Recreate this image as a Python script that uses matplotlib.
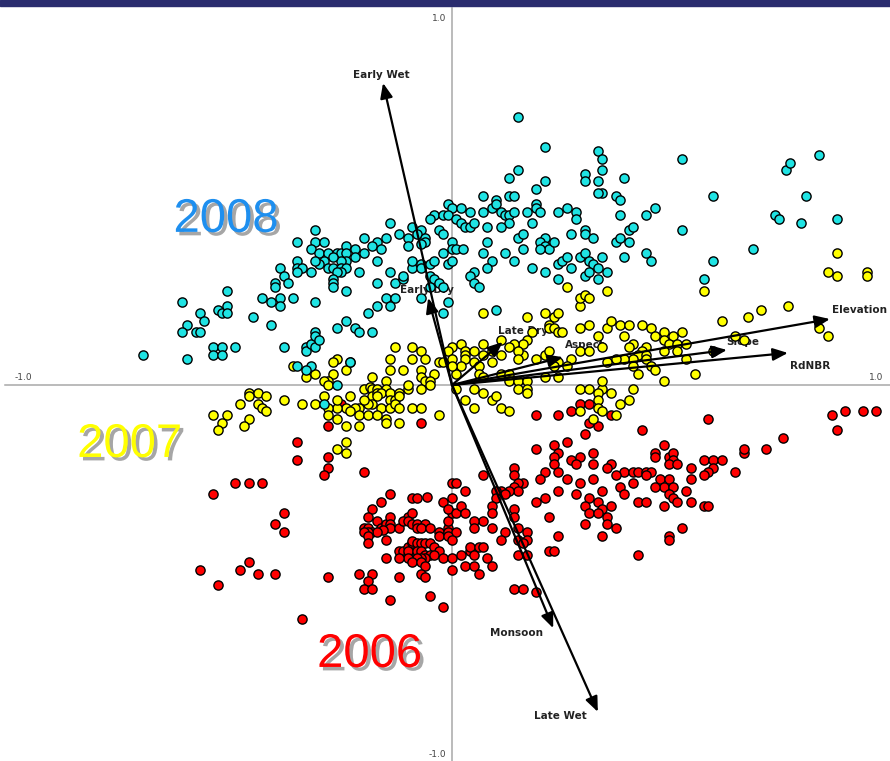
import matplotlib
matplotlib.use("Agg")
import matplotlib.pyplot as plt
from matplotlib import patheffects as pe
from matplotlib.patches import Rectangle

# Site scores on ordination axes 1 and 2, by fire year
scores_2008 = [
    (-0.70, 0.08), (-0.61, 0.22), (-0.60, 0.16), (-0.61, 0.14), (-0.58, 0.14), (-0.57, 0.14),
    (-0.57, 0.19), (-0.56, 0.17), (-0.60, 0.07), (-0.54, 0.10), (-0.52, 0.10), (-0.54, 0.08),
    (-0.52, 0.08), (-0.49, 0.10), (-0.53, 0.20), (-0.52, 0.19), (-0.51, 0.21), (-0.51, 0.19),
    (-0.51, 0.25), (-0.45, 0.18), (-0.43, 0.23), (-0.41, 0.22), (-0.41, 0.16), (-0.40, 0.27),
    (-0.40, 0.26), (-0.39, 0.31), (-0.38, 0.10), (-0.39, 0.23), (-0.39, 0.21),
    (-0.33, 0.10), (-0.33, 0.09), (-0.32, 0.11), (-0.31, 0.14), (-0.31, 0.13), (-0.31, 0.10),
    (-0.30, 0.12), (-0.35, 0.05), (-0.32, 0.05), (-0.33, 0.04), (-0.26, 0.00), (-0.29, -0.05),
    (-0.26, 0.15), (-0.24, 0.17), (-0.22, 0.15), (-0.21, 0.14), (-0.18, 0.14), (-0.19, 0.19),
    (-0.23, 0.06),
    (-0.04, 0.45), (-0.05, 0.44), (-0.14, 0.43), (-0.09, 0.42), (-0.07, 0.41), (-0.08, 0.40),
    (-0.06, 0.39), (-0.06, 0.38), (-0.07, 0.375), (-0.03, 0.41), (-0.12, 0.40), (-0.10, 0.39),
    (-0.10, 0.37), (-0.15, 0.39), (-0.17, 0.38), (-0.18, 0.37), (-0.16, 0.36), (-0.20, 0.39),
    (-0.20, 0.35), (-0.31, 0.41), (-0.31, 0.38), (-0.29, 0.38), (-0.35, 0.38), (-0.32, 0.36),
    (-0.30, 0.35), (-0.28, 0.35), (-0.26, 0.35), (-0.25, 0.35), (-0.24, 0.37), (-0.24, 0.35),
    (-0.22, 0.36), (-0.22, 0.34), (-0.24, 0.33), (-0.25, 0.33), (-0.27, 0.34), (-0.29, 0.33),
    (-0.30, 0.32), (-0.31, 0.33), (-0.35, 0.33), (-0.35, 0.31), (-0.34, 0.31), (-0.32, 0.30),
    (-0.35, 0.30), (-0.38, 0.29), (-0.37, 0.27), (-0.28, 0.31), (-0.27, 0.31), (-0.25, 0.31),
    (-0.24, 0.31), (-0.21, 0.30), (-0.25, 0.30), (-0.26, 0.30), (-0.27, 0.28), (-0.27, 0.27),
    (-0.27, 0.26), (-0.24, 0.25),
    (-0.17, 0.33), (-0.14, 0.30), (-0.17, 0.27), (-0.13, 0.27), (-0.11, 0.28), (-0.11, 0.29),
    (-0.09, 0.31), (-0.09, 0.33), (-0.07, 0.32), (-0.07, 0.31), (-0.05, 0.32), (-0.04, 0.33),
    (-0.05, 0.29), (-0.04, 0.28), (-0.03, 0.27), (-0.05, 0.26), (-0.02, 0.26), (-0.36, 0.23),
    (-0.31, 0.22), (-0.17, 0.21), (-0.15, 0.23), (-0.13, 0.23), (-0.14, 0.21), (-0.07, 0.23),
    (-0.02, 0.19),
    (0.15, 0.71), (0.21, 0.63), (0.33, 0.62), (0.34, 0.60), (0.15, 0.57), (0.13, 0.55),
    (0.30, 0.56), (0.34, 0.57), (0.30, 0.54), (0.33, 0.54), (0.34, 0.51), (0.33, 0.51),
    (0.39, 0.55), (0.37, 0.50), (0.38, 0.49), (0.38, 0.45), (0.21, 0.54), (0.19, 0.52),
    (0.07, 0.50), (0.10, 0.49), (0.13, 0.50), (0.14, 0.50), (0.09, 0.47), (0.10, 0.48),
    (0.11, 0.46), (0.12, 0.45), (0.13, 0.45), (0.13, 0.43), (0.14, 0.46), (0.19, 0.48),
    (0.19, 0.47), (0.17, 0.46), (0.20, 0.46), (0.18, 0.43), (-0.01, 0.48), (0.00, 0.47),
    (0.02, 0.47), (0.04, 0.46), (-0.02, 0.45), (-0.01, 0.45), (0.01, 0.44), (0.02, 0.43),
    (0.03, 0.42), (0.04, 0.42), (0.05, 0.43), (0.07, 0.46), (0.24, 0.46), (0.26, 0.47),
    (0.28, 0.46), (0.28, 0.44), (0.08, 0.42), (0.11, 0.42), (0.08, 0.38), (0.15, 0.39),
    (0.16, 0.40), (0.21, 0.39), (0.20, 0.38), (0.21, 0.37), (0.22, 0.36), (0.23, 0.38),
    (0.20, 0.36), (0.30, 0.41), (0.30, 0.40), (0.27, 0.40), (0.32, 0.39), (0.37, 0.38),
    (0.38, 0.39), (0.40, 0.38), (0.40, 0.41), (0.41, 0.42), (-0.02, 0.40), (0.00, 0.38),
    (-0.02, 0.35), (0.00, 0.36), (0.01, 0.36), (0.025, 0.36), (0.07, 0.35), (0.12, 0.35),
    (0.14, 0.33), (0.16, 0.36), (0.09, 0.33), (0.08, 0.31), (-0.01, 0.32), (0.00, 0.33),
    (0.05, 0.30), (0.04, 0.29), (0.05, 0.27), (0.06, 0.26), (0.18, 0.31), (0.21, 0.30),
    (0.24, 0.32), (0.25, 0.33), (0.26, 0.34), (0.27, 0.31), (0.24, 0.28), (0.29, 0.34),
    (0.30, 0.35), (0.31, 0.33), (0.34, 0.34), (0.39, 0.34), (0.32, 0.32), (0.33, 0.31),
    (0.30, 0.29), (0.31, 0.30), (0.35, 0.30), (0.33, 0.28), (-0.01, 0.22), (0.10, 0.20),
    (0.52, 0.60), (0.59, 0.50), (0.52, 0.41), (0.46, 0.47), (0.44, 0.45), (0.44, 0.35),
    (0.45, 0.33), (0.68, 0.36), (0.59, 0.33), (0.57, 0.28), (0.73, 0.45), (0.74, 0.44),
    (0.755, 0.57), (0.765, 0.59), (0.83, 0.61), (0.80, 0.50), (0.79, 0.43), (0.87, 0.44),
]

scores_2007 = [
    (-0.46, -0.02), (-0.44, -0.02), (-0.42, -0.03), (-0.46, -0.03), (-0.48, -0.05), (-0.44, -0.05),
    (-0.43, -0.06), (-0.42, -0.07), (-0.38, -0.04), (-0.34, -0.05), (-0.54, -0.08), (-0.51, -0.08),
    (-0.52, -0.10), (-0.53, -0.12), (-0.46, -0.09), (-0.47, -0.11),
    (-0.13, 0.10), (-0.09, 0.10), (-0.07, 0.09), (-0.14, 0.07), (-0.09, 0.07), (-0.06, 0.07),
    (-0.03, 0.06), (-0.02, 0.06), (-0.14, 0.04), (-0.11, 0.04), (-0.07, 0.04), (-0.04, 0.03),
    (-0.07, 0.02), (-0.06, 0.01), (-0.05, 0.01), (-0.05, 0.00), (-0.07, -0.01),
    (-0.26, 0.07), (-0.27, 0.06), (-0.23, 0.06), (-0.27, 0.03), (-0.24, 0.04), (-0.33, 0.02),
    (-0.31, 0.03), (-0.36, 0.05), (-0.28, 0.01), (-0.29, 0.01), (-0.28, 0.00),
    (-0.18, 0.02), (-0.15, 0.01), (-0.20, -0.01), (-0.185, -0.005), (-0.18, -0.01), (-0.17, -0.01),
    (-0.15, -0.01), (-0.18, -0.03), (-0.17, -0.02), (-0.16, -0.02), (-0.14, -0.02), (-0.12, -0.02),
    (-0.14, -0.04), (-0.13, -0.04), (-0.12, -0.03), (-0.10, -0.01), (-0.10, 0.00), (-0.17, -0.03),
    (-0.18, -0.05), (-0.19, -0.05), (-0.20, -0.04), (-0.23, -0.03), (-0.16, -0.06), (-0.14, -0.06),
    (-0.13, -0.05), (-0.12, -0.06), (-0.09, -0.06), (-0.07, -0.06), (-0.21, -0.06), (-0.22, -0.06),
    (-0.24, -0.06), (-0.26, -0.06), (-0.28, -0.06), (-0.31, -0.05), (-0.29, -0.03), (-0.26, -0.04),
    (-0.23, -0.07), (-0.21, -0.08), (-0.19, -0.08), (-0.17, -0.08), (-0.15, -0.09), (-0.15, -0.10),
    (-0.12, -0.10), (-0.28, -0.08), (-0.26, -0.09), (-0.24, -0.11), (-0.21, -0.11), (-0.03, -0.08),
    (-0.24, -0.15), (-0.26, -0.17), (-0.24, -0.18),
    (0.07, 0.19), (0.17, 0.18), (0.21, 0.19), (0.23, 0.18), (0.24, 0.19), (0.29, 0.21),
    (0.22, 0.16), (0.22, 0.15), (0.23, 0.15), (0.24, 0.14), (0.25, 0.14), (0.18, 0.14),
    (0.11, 0.12), (0.17, 0.12), (0.16, 0.11), (0.14, 0.11), (0.16, 0.08), (0.15, 0.09),
    (0.29, 0.15), (0.31, 0.16), (0.33, 0.13), (0.35, 0.15), (0.36, 0.17), (0.38, 0.16),
    (0.40, 0.16), (0.39, 0.13), (0.43, 0.16), (0.45, 0.15), (0.46, 0.13), (0.48, 0.14),
    (0.50, 0.13), (0.52, 0.14), (0.48, 0.12), (0.49, 0.11), (0.51, 0.11), (0.53, 0.11),
    (0.48, 0.09), (0.51, 0.09), (0.41, 0.11), (0.40, 0.10), (0.44, 0.10), (0.43, 0.09),
    (0.42, 0.08), (0.44, 0.08), (0.44, 0.07), (0.45, 0.05), (0.46, 0.04), (0.41, 0.07),
    (0.39, 0.07), (0.35, 0.06), (0.37, 0.07), (0.41, 0.05), (0.42, 0.03), (0.48, 0.01),
    (0.53, 0.07), (0.55, 0.03), (0.29, 0.09), (0.31, 0.09), (0.34, 0.10), (0.27, 0.07),
    (0.26, 0.05), (0.24, 0.06), (0.23, 0.05), (0.21, 0.02), (0.24, 0.02), (0.19, 0.07),
    (0.21, 0.08), (0.22, 0.09),
    (0.00, 0.10), (-0.01, 0.09), (0.02, 0.11), (0.03, 0.09), (0.05, 0.09), (0.03, 0.08),
    (0.00, 0.07), (0.03, 0.07), (0.05, 0.06), (0.07, 0.08), (0.09, 0.09), (0.07, 0.11),
    (0.11, 0.08), (0.13, 0.10), (0.15, 0.07), (0.09, 0.06), (0.06, 0.05), (0.02, 0.05),
    (0.01, 0.03), (0.00, 0.05), (0.06, 0.03), (0.07, 0.02), (0.11, 0.03), (0.13, 0.03),
    (0.13, 0.01), (0.15, 0.01), (0.17, 0.01), (0.15, -0.01), (0.17, -0.01), (0.17, -0.02),
    (0.01, -0.01), (0.03, -0.04), (0.05, -0.01), (0.07, -0.02), (0.05, -0.06), (0.09, -0.04),
    (0.10, -0.03), (0.11, -0.06), (0.13, -0.07),
    (0.29, -0.01), (0.31, -0.01), (0.34, -0.01), (0.34, 0.01), (0.33, -0.02), (0.33, -0.04),
    (0.36, -0.02), (0.38, -0.05), (0.40, -0.04), (0.41, -0.01), (0.33, -0.06), (0.34, -0.07),
    (0.29, -0.07), (0.32, -0.09), (0.37, -0.08),
    (0.57, 0.25), (0.87, 0.35), (0.85, 0.30), (0.87, 0.29), (0.94, 0.30), (0.94, 0.29),
    (0.76, 0.21), (0.70, 0.20), (0.67, 0.18), (0.61, 0.17), (0.83, 0.15), (0.85, 0.13),
    (0.64, 0.13), (0.66, 0.12), (0.59, 0.09), (0.26, 0.26), (0.29, 0.23), (0.30, 0.24),
    (0.31, 0.23), (0.35, 0.25),
]

scores_2006 = [
    (-0.28, -0.11), (-0.07, -0.10), (-0.35, -0.15), (-0.35, -0.20), (-0.28, -0.19), (-0.28, -0.22),
    (-0.29, -0.24), (-0.20, -0.23), (-0.49, -0.26), (-0.46, -0.26), (-0.43, -0.26), (-0.54, -0.29),
    (-0.38, -0.34), (-0.40, -0.37), (-0.38, -0.39), (-0.57, -0.49), (-0.48, -0.49), (-0.46, -0.47),
    (-0.44, -0.50), (-0.40, -0.50), (-0.53, -0.53), (-0.34, -0.62), (-0.02, -0.59), (-0.25, -0.05),
    (-0.14, -0.29), (-0.16, -0.31), (-0.09, -0.30), (-0.08, -0.30), (-0.057, -0.297), (-0.02, -0.31),
    (0.00, -0.30), (0.00, -0.26), (0.01, -0.26), (0.03, -0.28), (-0.18, -0.33), (-0.19, -0.35),
    (-0.20, -0.38), (-0.19, -0.38), (-0.18, -0.39), (-0.17, -0.36), (-0.16, -0.38), (-0.15, -0.37),
    (-0.14, -0.35), (-0.14, -0.37), (-0.14, -0.38), (-0.156, -0.385), (-0.17, -0.39), (-0.19, -0.39),
    (-0.20, -0.39), (-0.19, -0.40), (-0.19, -0.42), (-0.12, -0.38), (-0.15, -0.41), (-0.10, -0.35),
    (-0.09, -0.34), (-0.11, -0.36), (-0.10, -0.36), (-0.09, -0.37), (-0.08, -0.37), (-0.06, -0.37),
    (-0.08, -0.38), (-0.07, -0.38), (-0.05, -0.38), (-0.03, -0.39), (-0.01, -0.38), (-0.01, -0.39),
    (0.01, -0.39), (-0.03, -0.40), (-0.01, -0.40), (0.00, -0.41), (-0.01, -0.36), (0.00, -0.34),
    (-0.01, -0.33), (0.01, -0.34), (0.02, -0.32), (0.03, -0.34),
    (-0.12, -0.44), (-0.11, -0.44), (-0.10, -0.43), (-0.09, -0.42), (-0.09, -0.415), (-0.08, -0.42),
    (-0.07, -0.42), (-0.06, -0.42), (-0.05, -0.42), (-0.04, -0.43), (-0.03, -0.44), (-0.10, -0.45),
    (-0.10, -0.44), (-0.08, -0.44), (-0.07, -0.44), (-0.06, -0.45), (-0.05, -0.45), (-0.04, -0.45),
    (-0.06, -0.46), (-0.07, -0.46), (-0.08, -0.46), (-0.10, -0.46), (-0.09, -0.47), (-0.12, -0.46),
    (-0.07, -0.47), (-0.15, -0.46), (-0.02, -0.46), (0.00, -0.46), (0.00, -0.49), (0.02, -0.45),
    (0.03, -0.48), (0.04, -0.44), (-0.06, -0.48), (-0.07, -0.50), (-0.06, -0.51), (-0.12, -0.51),
    (-0.21, -0.50), (-0.18, -0.50), (-0.19, -0.52), (-0.20, -0.54), (-0.18, -0.54), (-0.28, -0.51),
    (-0.05, -0.56), (-0.14, -0.57),
    (0.19, -0.17), (0.23, -0.16), (0.26, -0.15), (0.24, -0.18), (0.23, -0.19), (0.23, -0.21),
    (0.24, -0.23), (0.21, -0.23), (0.20, -0.25), (0.27, -0.20), (0.29, -0.19), (0.28, -0.21),
    (0.32, -0.18), (0.32, -0.21), (0.30, -0.13), (0.33, -0.11), (0.36, -0.21), (0.35, -0.22),
    (0.39, -0.23), (0.37, -0.24), (0.41, -0.23), (0.26, -0.25), (0.32, -0.25), (0.29, -0.26),
    (0.38, -0.27), (0.41, -0.26), (0.34, -0.28), (0.28, -0.29), (0.24, -0.28), (0.21, -0.30),
    (0.19, -0.31), (0.31, -0.30), (0.33, -0.31), (0.30, -0.32), (0.31, -0.34), (0.34, -0.33),
    (0.33, -0.34), (0.35, -0.35), (0.36, -0.32), (0.39, -0.29), (0.42, -0.31), (0.30, -0.37),
    (0.35, -0.37), (0.37, -0.38), (0.34, -0.40), (0.22, -0.35), (0.24, -0.40), (0.22, -0.44),
    (0.23, -0.44), (0.42, -0.45),
    (0.07, -0.24), (0.14, -0.22), (0.14, -0.24), (0.16, -0.26), (0.15, -0.26), (0.14, -0.27),
    (0.15, -0.28), (0.13, -0.28), (0.11, -0.28), (0.10, -0.28), (0.10, -0.30), (0.12, -0.29),
    (0.09, -0.32), (0.09, -0.34), (0.14, -0.33), (0.14, -0.35), (0.15, -0.38), (0.12, -0.39),
    (0.17, -0.39), (0.09, -0.38), (0.07, -0.36), (0.15, -0.41), (0.17, -0.41), (0.16, -0.42),
    (0.15, -0.45), (0.17, -0.45), (0.11, -0.41), (0.05, -0.36), (0.05, -0.38), (0.04, -0.43),
    (0.06, -0.43), (0.07, -0.43), (0.05, -0.45), (0.08, -0.46), (0.09, -0.48), (0.05, -0.48),
    (0.06, -0.50),
    (0.29, -0.05), (0.31, -0.05), (0.27, -0.07), (0.36, -0.08), (0.19, -0.08), (0.24, -0.08),
    (0.31, -0.10), (0.14, -0.54), (0.16, -0.54), (0.19, -0.55),
    (0.58, -0.09), (0.43, -0.12), (0.48, -0.16), (0.46, -0.18), (0.46, -0.19), (0.49, -0.19),
    (0.50, -0.18), (0.50, -0.20), (0.49, -0.21), (0.51, -0.21), (0.54, -0.22), (0.57, -0.20),
    (0.59, -0.20), (0.61, -0.20), (0.59, -0.22), (0.58, -0.23), (0.57, -0.24), (0.54, -0.25),
    (0.53, -0.28), (0.54, -0.31), (0.57, -0.32), (0.58, -0.32), (0.64, -0.23), (0.66, -0.18),
    (0.66, -0.17), (0.71, -0.17), (0.75, -0.14), (0.86, -0.08), (0.89, -0.07), (0.93, -0.07),
    (0.96, -0.07), (0.87, -0.12), (0.42, -0.23), (0.44, -0.23), (0.45, -0.23), (0.44, -0.24),
    (0.47, -0.25), (0.49, -0.25), (0.48, -0.27), (0.50, -0.27), (0.46, -0.27), (0.44, -0.31),
    (0.48, -0.32), (0.49, -0.29), (0.50, -0.30), (0.51, -0.31), (0.49, -0.40), (0.52, -0.38),
    (0.49, -0.41),
]

# Environmental biplot vectors (arrow tips)
env_names = ["Early Wet", "Early Dry", "Late Dry", "Aspect", "Slope",
             "RdNBR", "Elevation", "Monsoon", "Late Wet"]
env_x = [-0.156, -0.054, 0.115, 0.251, 0.622, 0.760, 0.855, 0.229, 0.330]
env_y = [0.801, 0.231, 0.114, 0.074, 0.093, 0.085, 0.175, -0.645, -0.867]

year_names = ["2006", "2007", "2008"]
year_colors = ["#FF0000", "#FFFF00", "#1FE3E3"]
year_text_colors = ["#FF0000", "#FFFF00", "#1E8FEF"]

fig = plt.figure(figsize=(8.9, 7.61), dpi=100)
ax = fig.add_axes([0, 0, 1, 1])
ax.set_xlim(-1.0226, 0.9910)
ax.set_ylim(-0.9973, 1.0212)
ax.axis("off")

# axis cross through the origin
ax.plot([-1.012, 0.991], [0, 0], color="#A8A8A8", lw=1.1, zorder=0)
ax.plot([0, 0], [-0.997, 1.0], color="#A8A8A8", lw=1.1, zorder=0)

tick_font = dict(fontsize=6.5, color="#444444", family="DejaVu Sans")
ax.text(-0.012, 0.973, "1.0", ha="right", va="center", **tick_font)
ax.text(-0.012, -0.981, "-1.0", ha="right", va="center", **tick_font)
ax.text(-0.989, 0.021, "-1.0", ha="left", va="center", **tick_font)
ax.text(0.975, 0.021, "1.0", ha="right", va="center", **tick_font)

# site scores
for scores, col in zip([scores_2006, scores_2007, scores_2008], year_colors):
    xs = [p[0] for p in scores]
    ys = [p[1] for p in scores]
    ax.scatter(xs, ys, s=44, c=col, edgecolors="black", linewidths=1.0, zorder=3)

# environmental vectors and their labels (label offsets in pixels from the tip)
label_offsets = {
    "Early Wet": (-2, 8), "Early Dry": (-1, 8), "Late Dry": (20, 11),
    "Aspect": (22, 12), "Slope": (16, 8), "RdNBR": (22, -13),
    "Elevation": (30, 9), "Monsoon": (-37, -5), "Late Wet": (-37, -4),
}
for name, x, y in zip(env_names, env_x, env_y):
    ax.annotate("", xy=(x, y), xytext=(0, 0),
                arrowprops=dict(arrowstyle="-|>,head_length=0.6,head_width=0.25",
                                color="black", lw=1.6, mutation_scale=15,
                                shrinkA=0, shrinkB=0),
                zorder=4)
    dx, dy = label_offsets[name]
    ax.annotate(name, xy=(x, y), xytext=(dx, dy), textcoords="offset pixels",
                ha="center", va="center", fontsize=7.5, fontweight="bold",
                color="#222222", family="DejaVu Sans", zorder=2)

# year labels with drop shadow
year_pos = {"2008": (-0.511, 0.438), "2007": (-0.729, -0.159), "2006": (-0.186, -0.716)}
for name, col in zip(year_names, year_text_colors):
    x, y = year_pos[name]
    ax.text(x, y, name, ha="center", va="center", fontsize=34, color=col,
            family="Liberation Sans", zorder=5,
            path_effects=[pe.withSimplePatchShadow(offset=(2.5, -2.5),
                                                   shadow_rgbFace="black", alpha=0.35)])

# navy banner strip along the top edge
fig.add_artist(Rectangle((0, 1 - 6 / 761), 1, 6 / 761, transform=fig.transFigure,
                         color="#2A2C6E", zorder=10))

fig.savefig("out.png", dpi=100)
